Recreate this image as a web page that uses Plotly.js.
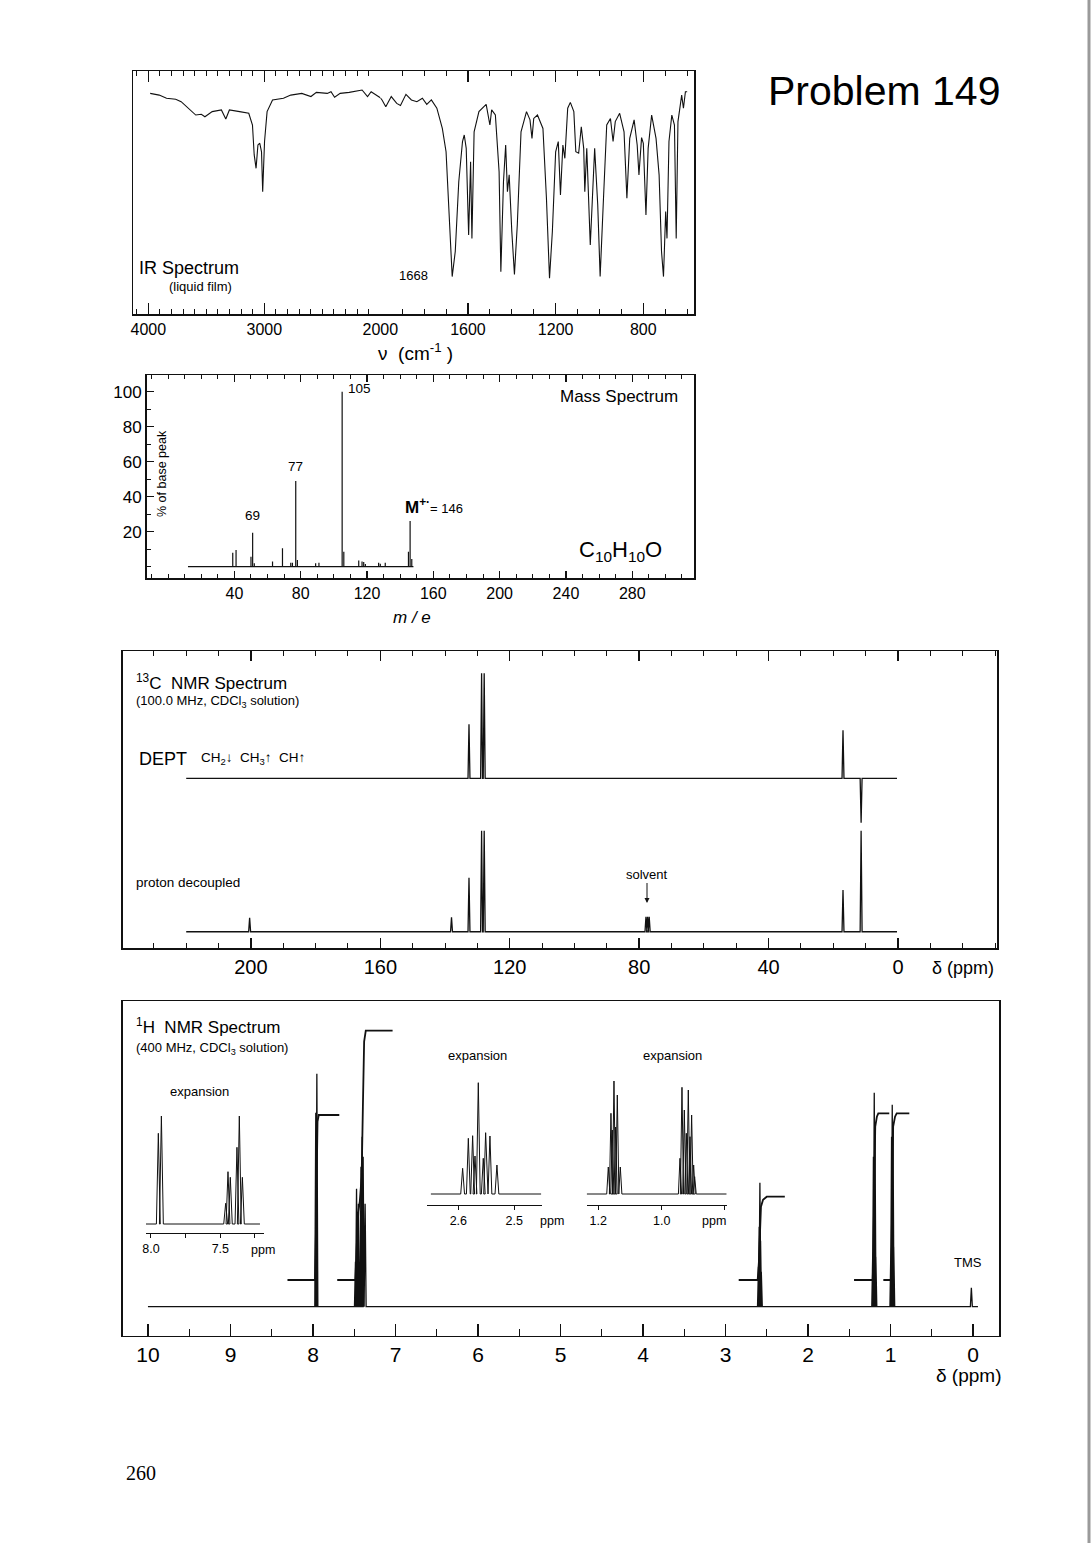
<!DOCTYPE html>
<html><head><meta charset="utf-8">
<script src="https://cdn.plot.ly/plotly-3.0.1.min.js"></script>
<style>html,body{margin:0;padding:0;background:#fff;}#chart{width:1092px;height:1543px;}</style>
</head><body><div id="chart"></div>
<script>
// ---------------- IR spectrum (wavenumber cm-1, %T) ----------------
const irLeftWn = [3984,3906,3843,3764,3717,3654,3591,3543,3512,3449,3370,3332,3301,3213,3134,3102,3087,3071,3055,3039,3024,3014,2998,2976,2929,2835,2772,2677,2598,2551,2457,2425,2394,2346,2268,2157,2110,2079,2031,2000];
const irLeftT  = [90.8,90.1,88.8,88.4,87.4,84.7,81.9,82.2,81.2,83.3,84.0,80.3,84.0,83.3,82.6,77.8,65.5,60.0,69.6,70.3,66.8,50.4,71.0,83.3,88.1,88.8,90.1,90.8,89.5,91.2,90.8,91.5,89.2,90.8,91.2,92.2,89.5,91.5,90.1,89.0];
const irRightWn = [2000,1992,1975,1950,1925,1908,1883,1858,1833,1808,1788,1767,1742,1717,1700,1683,1672,1658,1642,1625,1617,1608,1597,1588,1582,1572,1550,1517,1500,1492,1475,1458,1450,1438,1428,1420,1412,1400,1388,1375,1358,1333,1317,1308,1300,1283,1258,1242,1228,1215,1200,1188,1178,1167,1158,1145,1133,1117,1108,1095,1083,1072,1067,1058,1050,1042,1033,1022,1008,997,983,967,950,938,928,908,888,875,862,842,828,820,808,800,788,778,762,742,728,717,708,698,692,683,670,658,650,642,625,617,608,600];
const irRightT  = [89.0,88.1,85.3,89.5,86.7,85.8,90.4,88.1,87.4,88.8,86.3,88.1,84.7,76.4,66.8,34.0,15.5,25.8,54.5,71.0,73.7,68.2,32.6,62.7,31.2,75.0,83.3,86.3,77.8,84.0,81.9,58.6,17.5,54.5,69.6,50.4,57.3,34.0,16.4,36.7,75.0,83.3,79.9,72.3,80.5,81.9,76.4,47.7,14.8,34.0,66.8,71.0,49.0,69.6,64.1,84.7,87.1,83.3,66.8,66.2,77.1,68.2,50.4,68.2,47.7,28.5,46.3,68.2,45.0,15.5,45.0,77.8,80.5,71.0,79.2,82.6,75.0,47.7,72.3,79.9,69.6,57.3,72.6,70.3,40.8,68.2,81.9,72.3,57.3,25.8,15.5,42.2,31.2,71.0,81.9,77.8,31.2,79.2,90.1,84.7,91.5,91.5];

// ---------------- Mass spectrum (m/e, % of base peak) ----------------
const msMz  = [39,41,50,51,52,63,69,74,75,77,78,89,91,105,106,115,117,118,119,127,128,131,145,146,147];
const msInt = [8.0,9.5,5.7,19.4,2.0,2.9,10.5,2.3,2.3,49.0,3.8,1.9,2.3,100,8.6,3.6,2.9,2.7,1.5,2.3,1.7,2.3,8.6,26.1,4.4];
const msBaseMz = [12,148];

// ---------------- 13C NMR (ppm, relative intensity) ----------------
const cDecPpm = [200.4,138.0,132.6,128.7,127.9,77.9,77.4,76.9,17.0,11.4];
const cDecInt = [13.9,14.2,53.5,100,100,14.9,14.9,14.9,41.3,100];
const cDeptPpm = [132.6,128.7,127.9,17.0,11.4];
const cDeptInt = [51.4,100,100,45.7,-42.3];
const cBasePpm = [220,0.3];

// ---------------- 1H NMR (ppm, intensity) ----------------
const hPpm = [7.966,7.953,7.485,7.472,7.460,7.449,7.418,7.404,7.392,7.368,2.600,2.592,2.583,2.575,2.566,1.215,1.207,1.197,1.188,1.178,0.995,0.987,0.979,0.970,0.961,0.02];
const hInt = [194,233,45,118,95,103,140,170,150,103,40,80,124,66,35,55,150,214,170,50,60,170,202,180,60,19];
const hBasePpm = [10.0,-0.06];
const int1Ppm = [8.309,7.976,7.965,7.955,7.945,7.93,7.681];
const int1Val = [26.7,26.7,70,150,185,191.7,191.7];
const int2Ppm = [7.706,7.485,7.47,7.45,7.434,7.41,7.395,7.38,7.36,7.035];
const int2Val = [26.7,26.7,60,95,104,130,200,265,276,276];
const int3Ppm = [2.840,2.61,2.595,2.582,2.57,2.545,2.50,2.281];
const int3Val = [26.7,26.7,45,85,100,107,110,110];
const int4Ppm = [1.442,1.215,1.205,1.196,1.185,1.165,1.148,1.015];
const int4Val = [26.7,26.7,70,150,180,190,193.4,193.4];
const int5Ppm = [1.087,0.995,0.985,0.978,0.968,0.945,0.925,0.772];
const int5Val = [26.7,26.7,70,150,180,190,193.4,193.4];

// expansions
const exArPpm = [7.947,7.925,7.4615,7.4447,7.428,7.380,7.363,7.341];
const exArInt = [90.7,108,20.7,52.3,46.7,76.7,108,46.7];
const exArBase = [8.036,7.214];
const exCHPpm = [2.5923,2.5821,2.5744,2.5702,2.5643,2.5554,2.5512,2.5435,2.5310];
const exCHInt = [25.7,55.7,58.3,38,111.3,35.7,61.3,58,29];
const exCHBase = [2.649,2.452];
const exCH2Ppm = [1.1684,1.160,1.1558,1.1505,1.1453,1.140,1.1305,0.9421,0.9358,0.9284,0.9221,0.9158,0.9105,0.9053,0.8989,0.8958];
const exCH2Int = [27,80.7,64,113,67,99,27,35.7,106.7,84,60.7,104,57.3,79,29,17.3];
const exCH2Base = [1.2366,0.7946];

// tick labels
const irTicksA = [4000,3000,2000], irTicksB = [1600,1200,800];
const msXTicks = [40,80,120,160,200,240,280];
const msYTicks = [20,40,60,80,100];
const cTicks = [200,160,120,80,40,0];
const cTicksUnlabeled = [220,180,140,100,60,20];
const hTicks = [10,9,8,7,6,5,4,3,2,1,0];

// ---------------- helpers ----------------
const W=1092,H=1543;
const PX=x=>x/W, PY=y=>1-y/H;
const dom=(a,b)=>[a/W,b/W];
const vdom=(top,bot)=>[1-bot/H,1-top/H];
const FONT='"Liberation Sans", Arial, Helvetica, sans-serif';
const INK='#111';

function stickPath(base, pos, hgt, w){
  const x=[base[0]], y=[0];
  pos.forEach((p,i)=>{ x.push(p+w,p,p-w); y.push(0,hgt[i],0); });
  x.push(base[1]); y.push(0);
  return {x,y};
}
function msPath(){
  const x=[msBaseMz[0],msBaseMz[1],null], y=[0,0,null];
  msMz.forEach((m,i)=>{x.push(m,m,null); y.push(0,msInt[i],null);});
  return {x,y};
}
function line(xy,xa,ya,width){
  return {type:'scatter',mode:'lines',x:xy.x,y:xy.y,xaxis:xa,yaxis:ya,
    line:{color:INK,width:width||1},hoverinfo:'skip',showlegend:false,connectgaps:false};
}
function ax(o){
  return Object.assign({showgrid:false,zeroline:false,showline:false,ticks:'',showticklabels:false,
    fixedrange:true,linecolor:INK,linewidth:1.5,tickcolor:INK,tickwidth:1.4,
    tickfont:{family:FONT,size:16,color:'#000'}},o);
}
const tf=s=>({family:FONT,size:s,color:'#000'});

const traces=[
  line({x:irLeftWn,y:irLeftT},'x','y',1.1),
  line({x:irRightWn,y:irRightT},'x2','y2',1.1),
  line(msPath(),'x3','y3',1.2),
  line(stickPath(cBasePpm,cDeptPpm,cDeptInt,0.3),'x4','y4',1.3),
  line(stickPath(cBasePpm,cDecPpm,cDecInt,0.3),'x4','y5',1.3),
  line(stickPath(hBasePpm,hPpm,hInt,0.012),'x6','y6',1.3),
  line({x:int1Ppm,y:int1Val},'x6','y6',1.8),
  line({x:int2Ppm,y:int2Val},'x6','y6',1.8),
  line({x:int3Ppm,y:int3Val},'x6','y6',1.8),
  line({x:int4Ppm,y:int4Val},'x6','y6',1.8),
  line({x:int5Ppm,y:int5Val},'x6','y6',1.8),
  line(stickPath(exArBase,exArPpm,exArInt,0.014),'x7','y7',1),
  line(stickPath(exCHBase,exCHPpm,exCHInt,0.0034),'x8','y8',1),
  line(stickPath(exCH2Base,exCH2Ppm,exCH2Int,0.005),'x9','y9',1)
];

function ann(text,x,y,size,o){
  return Object.assign({text:text,x:PX(x),y:PY(y),xref:'paper',yref:'paper',showarrow:false,
    xanchor:'center',yanchor:'middle',font:tf(size)},o||{});
}

const annotations=[
  ann('Problem 149',884,91,41),
  ann('IR Spectrum',137,268,18,{xanchor:'left'}),
  ann('(liquid film)',167,286,13,{xanchor:'left'}),
  ann('1668',413,275,13),
  ann('ν  (cm<sup>-1</sup> )',415,352,19),
  ann('105',359,388,13.5),
  ann('77',295,467,13.5),
  ann('69',252,515,13.5),
  ann('<b>M</b><sup><b>+·</b></sup><span style="font-size:13px">= 146</span>',403,506,17,{xanchor:'left'}),
  ann('Mass Spectrum',619,396,17),
  ann('C<sub>10</sub>H<sub>10</sub>O',620,551,22),
  ann('% of base peak',162,474,12.5,{textangle:-90}),
  ann('<i>m / e</i>',412,617,17),
  ann('<sup>13</sup>C  NMR Spectrum',134,682,17,{xanchor:'left'}),
  ann('(100.0 MHz, CDCl<sub>3</sub> solution)',134,701,13,{xanchor:'left'}),
  ann('DEPT',137,759,18,{xanchor:'left'}),
  ann('CH<sub>2</sub>↓  CH<sub>3</sub>↑  CH↑',199,759,13.5,{xanchor:'left'}),
  ann('proton decoupled',134,882,13.5,{xanchor:'left'}),
  {text:'solvent',x:PX(647),y:PY(903),xref:'paper',yref:'paper',showarrow:true,ax:0,ay:-29,
    arrowhead:2,arrowsize:1,arrowwidth:1,arrowcolor:INK,font:tf(13)},
  ann('δ (ppm)',930,968,18,{xanchor:'left'}),
  ann('<sup>1</sup>H  NMR Spectrum',134,1026,17,{xanchor:'left'}),
  ann('(400 MHz, CDCl<sub>3</sub> solution)',134,1048,13,{xanchor:'left'}),
  ann('expansion',199,1091,13),
  ann('expansion',477,1055,13),
  ann('expansion',672,1055,13),
  ann('ppm',263,1250,12.5),
  ann('ppm',552,1221,12.5),
  ann('ppm',714,1221,12.5),
  ann('TMS',968,1262,13),
  ann('δ (ppm)',968,1375,19),
  ann('260',124,1473,20,{xanchor:'left',font:{family:'"Liberation Serif", "Times New Roman", serif',size:20,color:'#000'}})
];

const layout={
  width:W,height:H,margin:{l:0,r:0,t:0,b:0},paper_bgcolor:'#fff',plot_bgcolor:'rgba(0,0,0,0)',
  showlegend:false,font:{family:FONT,color:'#000'},
  // IR
  xaxis:ax({domain:dom(133,380.3),range:[4132,2000],anchor:'y',showline:true,mirror:'ticks',ticks:'inside',ticklen:11,
    tickmode:'array',tickvals:irTicksA,ticktext:irTicksA.map(String),showticklabels:true,
    minor:{ticks:'inside',ticklen:5,dtick:100,tick0:0,tickcolor:INK,tickwidth:1}}),
  yaxis:ax({domain:vdom(71,314.3),range:[0,100],anchor:'x',showline:true}),
  xaxis2:ax({domain:dom(380.3,694),range:[2000,568.8],anchor:'y2',showline:true,mirror:'ticks',ticks:'inside',ticklen:11,
    tickmode:'array',tickvals:irTicksB,ticktext:irTicksB.map(String),showticklabels:true,
    minor:{ticks:'inside',ticklen:5,dtick:100,tick0:0,tickcolor:INK,tickwidth:1}}),
  yaxis2:ax({domain:vdom(71,314.3),range:[0,100],anchor:'x2',side:'right',showline:true}),
  // Mass
  xaxis3:ax({domain:dom(146.6,694.4),range:[-12.97,317.5],anchor:'y3',showline:true,mirror:'ticks',ticks:'inside',ticklen:7,
    tickmode:'array',tickvals:msXTicks,ticktext:msXTicks.map(String),showticklabels:true,tickfont:tf(16),
    minor:{ticks:'inside',ticklen:4,dtick:10,tick0:0,tickcolor:INK,tickwidth:1}}),
  yaxis3:ax({domain:vdom(375,578.3),range:[-6.63,109.54],anchor:'x3',showline:true,mirror:true,ticks:'inside',ticklen:7,
    tickmode:'array',tickvals:msYTicks,ticktext:msYTicks.map(String),showticklabels:true,tickfont:tf(17),
    minor:{ticks:'inside',ticklen:4,dtick:10,tick0:0,tickcolor:INK,tickwidth:1}}),
  // 13C
  xaxis4:ax({domain:dom(122.8,997),range:[239.6,-30.6],anchor:'y4',showline:true,mirror:'ticks',ticks:'inside',ticklen:10,
    tickmode:'array',tickvals:cTicks,ticktext:cTicks.map(String),showticklabels:true,tickfont:tf(20),
    minor:{ticks:'inside',ticklen:5,dtick:10,tick0:0,tickcolor:INK,tickwidth:1}}),
  xaxis10:ax({overlaying:'x4',domain:dom(122.8,997),range:[239.6,-30.6],anchor:'y4',showline:true,mirror:'ticks',ticks:'inside',ticklen:10,
    tickmode:'array',tickvals:cTicksUnlabeled,showticklabels:false}),
  yaxis4:ax({domain:vdom(651,948.3),range:[-161.9,121.2],anchor:'x4',showline:true,mirror:true}),
  yaxis5:ax({domain:vdom(800,948.3),range:[-16.4,130.4],anchor:'x4',visible:false}),
  // 1H
  xaxis6:ax({domain:dom(122.8,999),range:[10.305,-0.315],anchor:'y6',showline:true,mirror:true,ticks:'inside',ticklen:12,
    tickmode:'array',tickvals:hTicks,ticktext:hTicks.map(String),showticklabels:true,tickfont:tf(21),
    minor:{ticks:'inside',ticklen:7,dtick:0.5,tick0:0,tickcolor:INK,tickwidth:1.2}}),
  yaxis6:ax({domain:vdom(1001,1335.7),range:[-29,305.7],anchor:'x6',showline:true,mirror:true}),
  // expansions
  xaxis7:ax({domain:dom(146,264),range:[8.036,7.185],anchor:'y7',showline:true,linewidth:1,ticks:'outside',ticklen:4,tickwidth:1,
    tickmode:'array',tickvals:[8.0,7.5],ticktext:['8.0','7.5'],showticklabels:true,tickfont:tf(12.5),
    minor:{ticks:'outside',ticklen:4,tickmode:'array',tickvals:[7.75,7.25],tickcolor:INK,tickwidth:1}}),
  yaxis7:ax({domain:vdom(1100,1233.3),range:[-9.3,124],anchor:'x7',visible:false}),
  xaxis8:ax({domain:dom(426.7,541.7),range:[2.6565,2.451],anchor:'y8',showline:true,linewidth:1,ticks:'outside',ticklen:4,tickwidth:1,
    tickmode:'array',tickvals:[2.6,2.5],ticktext:['2.6','2.5'],showticklabels:true,tickfont:tf(12.5)}),
  yaxis8:ax({domain:vdom(1075,1205),range:[-11,119],anchor:'x8',visible:false}),
  xaxis9:ax({domain:dom(586.7,726.7),range:[1.2366,0.7946],anchor:'y9',showline:true,linewidth:1,ticks:'outside',ticklen:4,tickwidth:1,
    tickmode:'array',tickvals:[1.2,1.0],ticktext:['1.2','1.0'],showticklabels:true,tickfont:tf(12.5),
    minor:{ticks:'outside',ticklen:4,tickmode:'array',tickvals:[0.8],tickcolor:INK,tickwidth:1}}),
  yaxis9:ax({domain:vdom(1075,1205),range:[-11,119],anchor:'x9',visible:false}),
  annotations:annotations,
  shapes:[{type:'line',xref:'paper',yref:'paper',x0:PX(1089),x1:PX(1089),y0:0,y1:1,line:{color:'#9a9a9a',width:3}}]
};

Plotly.newPlot('chart',traces,layout,{staticPlot:true,displayModeBar:false});
</script></body></html>
